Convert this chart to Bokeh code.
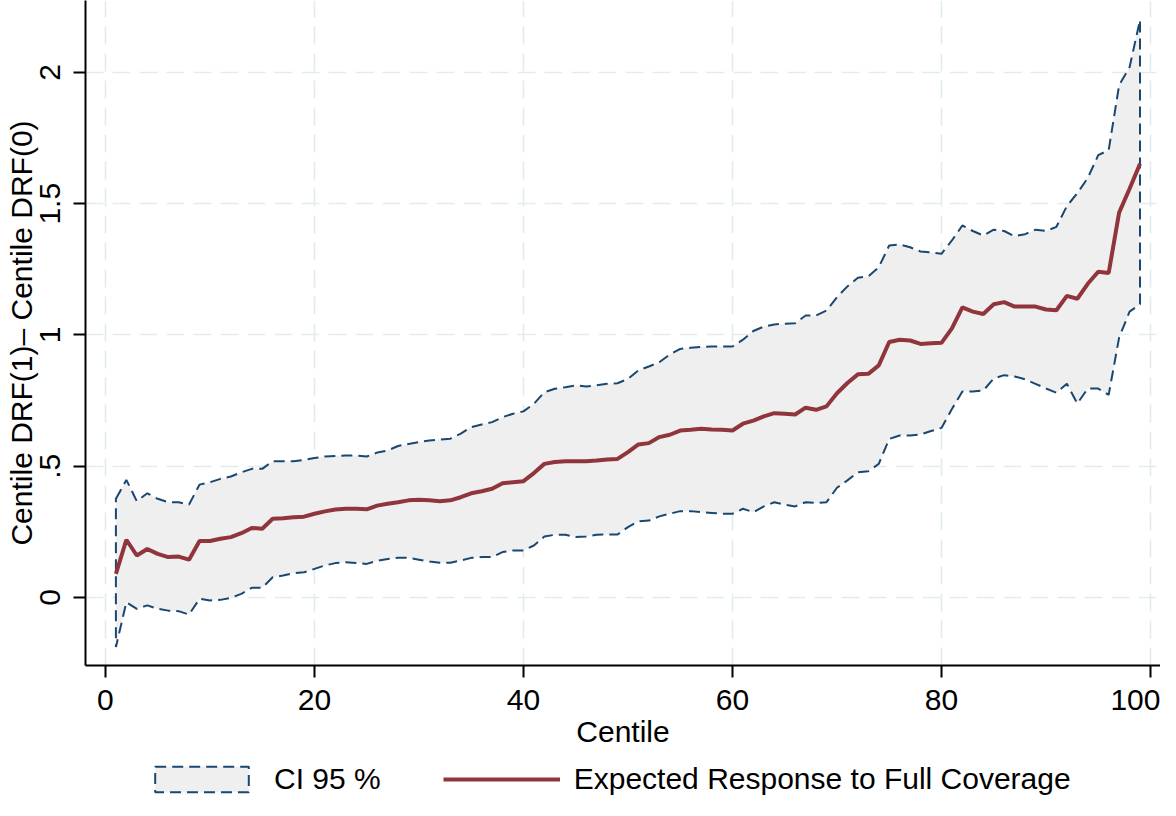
from bokeh.plotting import figure
from bokeh.models import Range1d, Legend, LegendItem
from bokeh.layouts import column
from bokeh.embed import file_html
from bokeh.resources import INLINE

centile = list(range(1, 100))

upper = [0.376, 0.448, 0.367, 0.397, 0.376, 0.363, 0.363, 0.354, 0.430, 0.439,
         0.452, 0.461, 0.477, 0.490, 0.490, 0.519, 0.519, 0.519, 0.524, 0.531,
         0.537, 0.539, 0.541, 0.541, 0.537, 0.552, 0.560, 0.577, 0.585, 0.592,
         0.598, 0.601, 0.605, 0.624, 0.649, 0.659, 0.668, 0.687, 0.700, 0.709,
         0.738, 0.782, 0.795, 0.801, 0.808, 0.804, 0.808, 0.814, 0.816, 0.833,
         0.865, 0.880, 0.896, 0.926, 0.947, 0.951, 0.954, 0.956, 0.956, 0.956,
         0.982, 1.015, 1.032, 1.040, 1.043, 1.045, 1.074, 1.074, 1.093, 1.144,
         1.185, 1.218, 1.223, 1.258, 1.341, 1.345, 1.334, 1.318, 1.315, 1.309,
         1.360, 1.417, 1.396, 1.379, 1.401, 1.396, 1.376, 1.384, 1.401, 1.396,
         1.412, 1.491, 1.540, 1.598, 1.685, 1.704, 1.951, 2.020, 2.200]

mean = [0.090, 0.220, 0.160, 0.185, 0.166, 0.154, 0.156, 0.144, 0.215, 0.215,
        0.224, 0.230, 0.245, 0.265, 0.262, 0.300, 0.302, 0.306, 0.308, 0.319,
        0.328, 0.335, 0.338, 0.338, 0.336, 0.350, 0.357, 0.363, 0.370, 0.372,
        0.370, 0.367, 0.370, 0.382, 0.397, 0.405, 0.414, 0.435, 0.439, 0.443,
        0.474, 0.509, 0.516, 0.519, 0.519, 0.519, 0.522, 0.526, 0.528, 0.554,
        0.583, 0.588, 0.611, 0.620, 0.636, 0.639, 0.643, 0.640, 0.639, 0.636,
        0.662, 0.674, 0.690, 0.702, 0.700, 0.697, 0.723, 0.715, 0.728, 0.778,
        0.817, 0.850, 0.852, 0.884, 0.973, 0.982, 0.979, 0.966, 0.968, 0.970,
        1.025, 1.105, 1.089, 1.080, 1.117, 1.125, 1.108, 1.108, 1.108, 1.097,
        1.094, 1.149, 1.138, 1.195, 1.241, 1.236, 1.466, 1.557, 1.652]

lower = [-0.189, -0.018, -0.043, -0.030, -0.043, -0.050, -0.052, -0.065, -0.005, -0.011,
         -0.009, -0.001, 0.014, 0.037, 0.037, 0.077, 0.084, 0.093, 0.096, 0.109,
         0.122, 0.131, 0.134, 0.131, 0.128, 0.140, 0.147, 0.151, 0.151, 0.144,
         0.137, 0.132, 0.132, 0.141, 0.151, 0.154, 0.154, 0.173, 0.179, 0.179,
         0.198, 0.232, 0.239, 0.239, 0.230, 0.232, 0.239, 0.240, 0.240, 0.268,
         0.290, 0.293, 0.309, 0.319, 0.329, 0.329, 0.325, 0.322, 0.319, 0.319,
         0.338, 0.325, 0.347, 0.363, 0.354, 0.347, 0.363, 0.360, 0.363, 0.418,
         0.446, 0.477, 0.481, 0.509, 0.604, 0.617, 0.617, 0.621, 0.634, 0.646,
         0.718, 0.785, 0.785, 0.788, 0.834, 0.847, 0.842, 0.831, 0.814, 0.796,
         0.780, 0.814, 0.739, 0.796, 0.796, 0.772, 0.990, 1.089, 1.117]

x_ticks = [0, 20, 40, 60, 80, 100]
y_ticks = [0, 0.5, 1, 1.5, 2]
y_tick_labels = ["0", ".5", "1", "1.5", "2"]

x_label = "Centile"
y_label = "Centile DRF(1)\u2013 Centile DRF(0)"
ci_label = "CI 95 %"
mean_label = "Expected Response to Full Coverage"

FONT = "Liberation Sans"
CI_FILL = "#efefef"
CI_LINE = "#1a476f"
MEAN_COLOR = "#90353b"
CI_DASH = "11 6"

p = figure(frame_width=1075, frame_height=665, output_backend="svg",
           toolbar_location=None,
           x_range=Range1d(-1.91, 100.96), y_range=Range1d(-0.259, 2.274),
           min_border_left=85, min_border_right=0, min_border_top=0,
           min_border_bottom=0)
p.outline_line_color = None
p.background_fill_color = "white"
p.border_fill_color = "white"

# CI band as closed polygon
poly_x = centile + centile[::-1]
poly_y = upper + lower[::-1]
ci = p.patch(poly_x, poly_y, fill_color=CI_FILL, line_color=CI_LINE,
             line_width=2, line_dash=CI_DASH)
ln = p.line(centile, mean, line_color=MEAN_COLOR, line_width=4)

# axes
for ax in (p.xaxis[0], p.yaxis[0]):
    ax.axis_line_color = "black"
    ax.axis_line_width = 2
    ax.major_tick_line_color = "black"
    ax.major_tick_line_width = 2
    ax.major_tick_in = 0
    ax.major_tick_out = 12
    ax.minor_tick_line_color = None
    ax.major_label_text_font = FONT
    ax.major_label_text_font_size = "30px"
    ax.major_label_text_color = "black"
    ax.axis_label_text_font = FONT
    ax.axis_label_text_font_size = "30px"
    ax.axis_label_text_font_style = "normal"
    ax.axis_label_text_color = "black"

p.xaxis.ticker = x_ticks
p.yaxis.ticker = y_ticks
p.yaxis.major_label_overrides = {t: s for t, s in zip(y_ticks, y_tick_labels)}
p.yaxis.major_label_orientation = "vertical"
p.xaxis.axis_label = x_label
p.yaxis.axis_label = y_label
p.xaxis.major_label_standoff = 12
p.xaxis.axis_label_standoff = 2
p.yaxis.major_label_standoff = 13
p.yaxis.axis_label_standoff = 0

for g in (p.xgrid[0], p.ygrid[0]):
    g.grid_line_color = "#e2ecee"
    g.grid_line_width = 1.6
    g.grid_line_dash = "18 9"

# legend strip below the chart: key renderers use the same data, kept out of view
p2 = figure(width=1160, height=46, output_backend="svg", toolbar_location=None,
            x_range=Range1d(200, 201), y_range=Range1d(200, 201),
            x_axis_location=None, y_axis_location=None, min_border=0)
p2.outline_line_color = None
p2.xgrid.visible = False
p2.ygrid.visible = False
ci_key = p2.patch(poly_x, poly_y, fill_color=CI_FILL, line_color=CI_LINE,
                  line_width=2, line_dash=CI_DASH)
ln_key = p2.line(centile, mean, line_color=MEAN_COLOR, line_width=4)
legend = Legend(items=[LegendItem(label=ci_label, renderers=[ci_key]),
                       LegendItem(label=mean_label, renderers=[ln_key])],
                orientation="horizontal", location=(58, 0),
                glyph_width=117, glyph_height=32, label_standoff=14,
                spacing=62, padding=0, margin=0,
                label_text_font=FONT, label_text_font_size="30px",
                label_text_color="black",
                border_line_color=None, background_fill_alpha=0)
p2.add_layout(legend, "center")

open("out.html", "w").write(file_html(column(p, p2, spacing=0), INLINE))
